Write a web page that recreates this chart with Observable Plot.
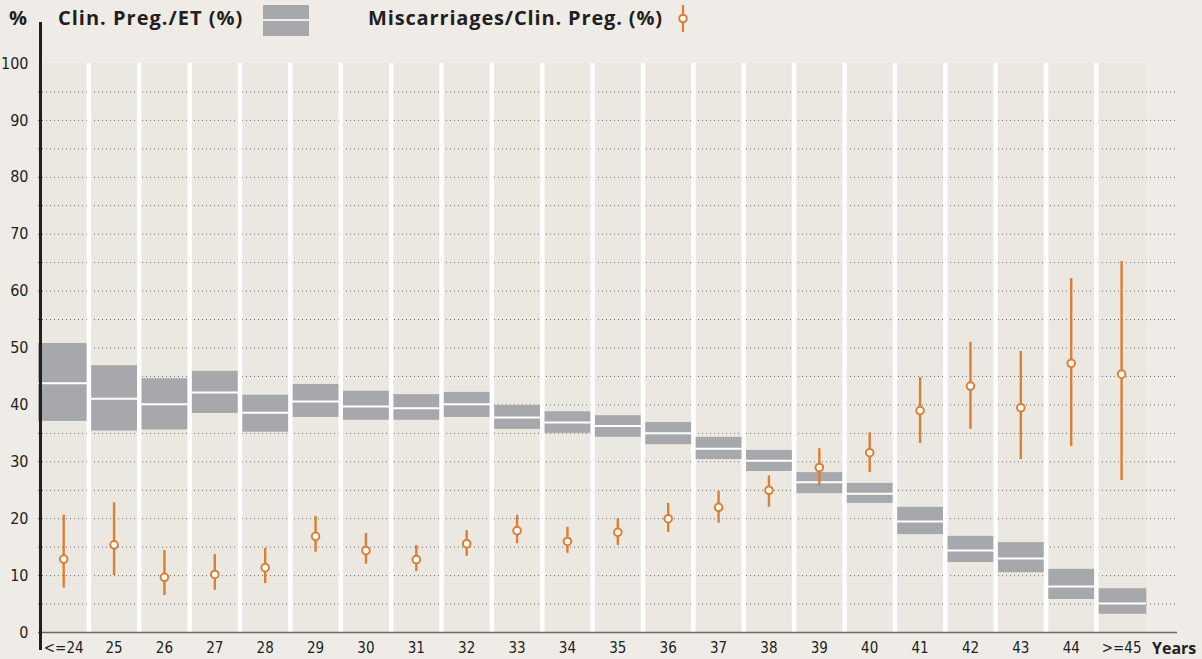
<!DOCTYPE html>
<html>
<head>
<meta charset="utf-8">
<script src="https://cdn.jsdelivr.net/npm/d3@7"></script>
<script src="https://cdn.jsdelivr.net/npm/@observablehq/plot@0.6"></script>
<style>
  html, body { margin: 0; padding: 0; background: #efece7; }
  #wrap { position: relative; width: 1202px; height: 659px; overflow: hidden; }
  #chart { position: absolute; left: 0; top: 0; }
  .lg { position: absolute; font-family: "Open Sans", "DejaVu Sans", sans-serif; font-weight: 700; color: #231f20; white-space: nowrap; line-height: 1; }
  #yaxisline { position: absolute; left: 39px; top: 22px; width: 2.5px; height: 628px; background: #231f20; }
</style>
</head>
<body>
<div id="wrap">
  <div id="chart"></div>
  <div id="yaxisline"></div>
  <div class="lg" id="pct" style="left:9px; top:8px; font-size:20px;">%</div>
  <div class="lg" id="lg1" style="left:58px; top:8px; font-size:20px; letter-spacing:1px;">Clin. Preg./ET (%)</div>
  <div style="position:absolute; left:263px; top:5px; width:46px; height:14px; background:#a7a8ab;"></div>
  <div style="position:absolute; left:263px; top:21px; width:46px; height:15px; background:#a7a8ab;"></div>
  <div class="lg" id="lg2" style="left:368px; top:8px; font-size:20px; letter-spacing:0.85px;">Miscarriages/Clin. Preg. (%)</div>
  <svg style="position:absolute; left:673px; top:2px;" width="20" height="34">
    <line x1="10" x2="10" y1="3" y2="30" stroke="#dd7e33" stroke-width="2.2"></line>
    <circle cx="10" cy="16.5" r="3.8" fill="#fff" stroke="#dd7e33" stroke-width="2"></circle>
  </svg>
  <div class="lg" id="years" style="left:1152px; top:640px; font-size:16px;">Years</div>
</div>
<script>
const cats = ["<=24","25","26","27","28","29","30","31","32","33","34","35","36","37","38","39","40","41","42","43","44",">=45"];
const pregLow  = [37.1,35.4,35.6,38.5,35.2,37.8,37.3,37.3,37.8,35.7,35.0,34.3,33.0,30.4,28.3,24.4,22.7,17.2,12.3,10.5,5.8,3.2];
const pregMid  = [43.8,41.1,40.1,42.2,38.6,40.6,39.7,39.4,40.1,37.8,36.9,36.3,35.0,32.3,30.2,26.4,24.4,19.5,14.4,13.0,8.1,5.1];
const pregHigh = [50.8,46.9,44.6,45.9,41.7,43.6,42.4,41.8,42.2,39.9,38.8,38.1,36.9,34.3,32.0,28.1,26.2,22.0,16.9,15.8,11.1,7.7];
const misLow   = [7.8,10.0,6.5,7.4,8.6,14.1,12.0,10.7,13.4,15.6,13.9,15.3,17.6,19.2,22.0,25.7,28.1,33.2,35.7,30.4,32.7,26.7];
const misMid   = [12.9,15.4,9.7,10.2,11.4,16.9,14.4,12.8,15.6,17.9,16.0,17.6,20.0,22.0,25.0,29.0,31.6,39.0,43.3,39.5,47.3,45.4];
const misHigh  = [20.6,22.8,14.4,13.7,14.8,20.4,17.4,15.3,17.9,20.6,18.5,20.0,22.7,24.8,27.5,32.3,35.1,44.8,51.0,49.4,62.2,65.2];
const yTicks = [0,10,20,30,40,50,60,70,80,90,100];
const gridVals = [5,10,15,20,25,30,35,40,45,50,55,60,65,70,75,80,85,90,95];

const data = cats.map((c, i) => ({
  cat: c, i, pl: pregLow[i], pm: pregMid[i], ph: pregHigh[i],
  ml: misLow[i], mm: misMid[i], mh: misHigh[i]
}));
const seps = d3.range(1, cats.length);

const orange = "#dd7e33";
const grey = "#a7a8ab";

const chart = Plot.plot({
  width: 1202,
  height: 659,
  marginLeft: 38,
  marginRight: 25,
  marginTop: 63,
  marginBottom: 27,
  style: { fontFamily: "'Liberation Sans Narrow', 'DejaVu Sans Condensed', 'Noto Sans', sans-serif", fontSize: "16px", color: "#231f20", background: "transparent" },
  x: { type: "linear", domain: [0, 22.61], axis: null },
  y: { domain: [0, 100], axis: null },
  marks: [
    Plot.rect(data, { x1: "i", x2: d => d.i + 1, y1: 0, y2: 100, fill: "#ebe8e2" }),
    Plot.ruleY(gridVals, { stroke: "#6e6e6e", strokeWidth: 1, strokeDasharray: "1,3" }),
    Plot.rect(data, { x1: "i", x2: d => d.i + 1, y1: "pl", y2: "ph", fill: grey }),
    Plot.ruleY(data, { x1: "i", x2: d => d.i + 1, y: "pm", stroke: "#fff", strokeWidth: 2 }),
    Plot.ruleX(seps, { x: d => d, y1: 0, y2: 100, stroke: "#fff", strokeWidth: 4.5 }),
    Plot.ruleY([0], { stroke: "#6a6a6a", strokeWidth: 1.5 }),
    Plot.axisY({ ticks: yTicks, tickSize: 0, tickPadding: 10, fontSize: 16, label: null }),
    Plot.axisX({ ticks: data.map(d => d.i + 0.5), tickFormat: d => cats[Math.floor(d)], tickSize: 0, tickPadding: 10, fontSize: 15, label: null }),
    Plot.ruleX(data, { x: d => d.i + 0.5, y1: "ml", y2: "mh", stroke: orange, strokeWidth: 2.4 }),
    Plot.dot(data, { x: d => d.i + 0.5, y: "mm", r: 3.8, fill: "#fff", stroke: orange, strokeWidth: 2 })
  ]
});
document.getElementById("chart").appendChild(chart);
</script>
</body>
</html>
